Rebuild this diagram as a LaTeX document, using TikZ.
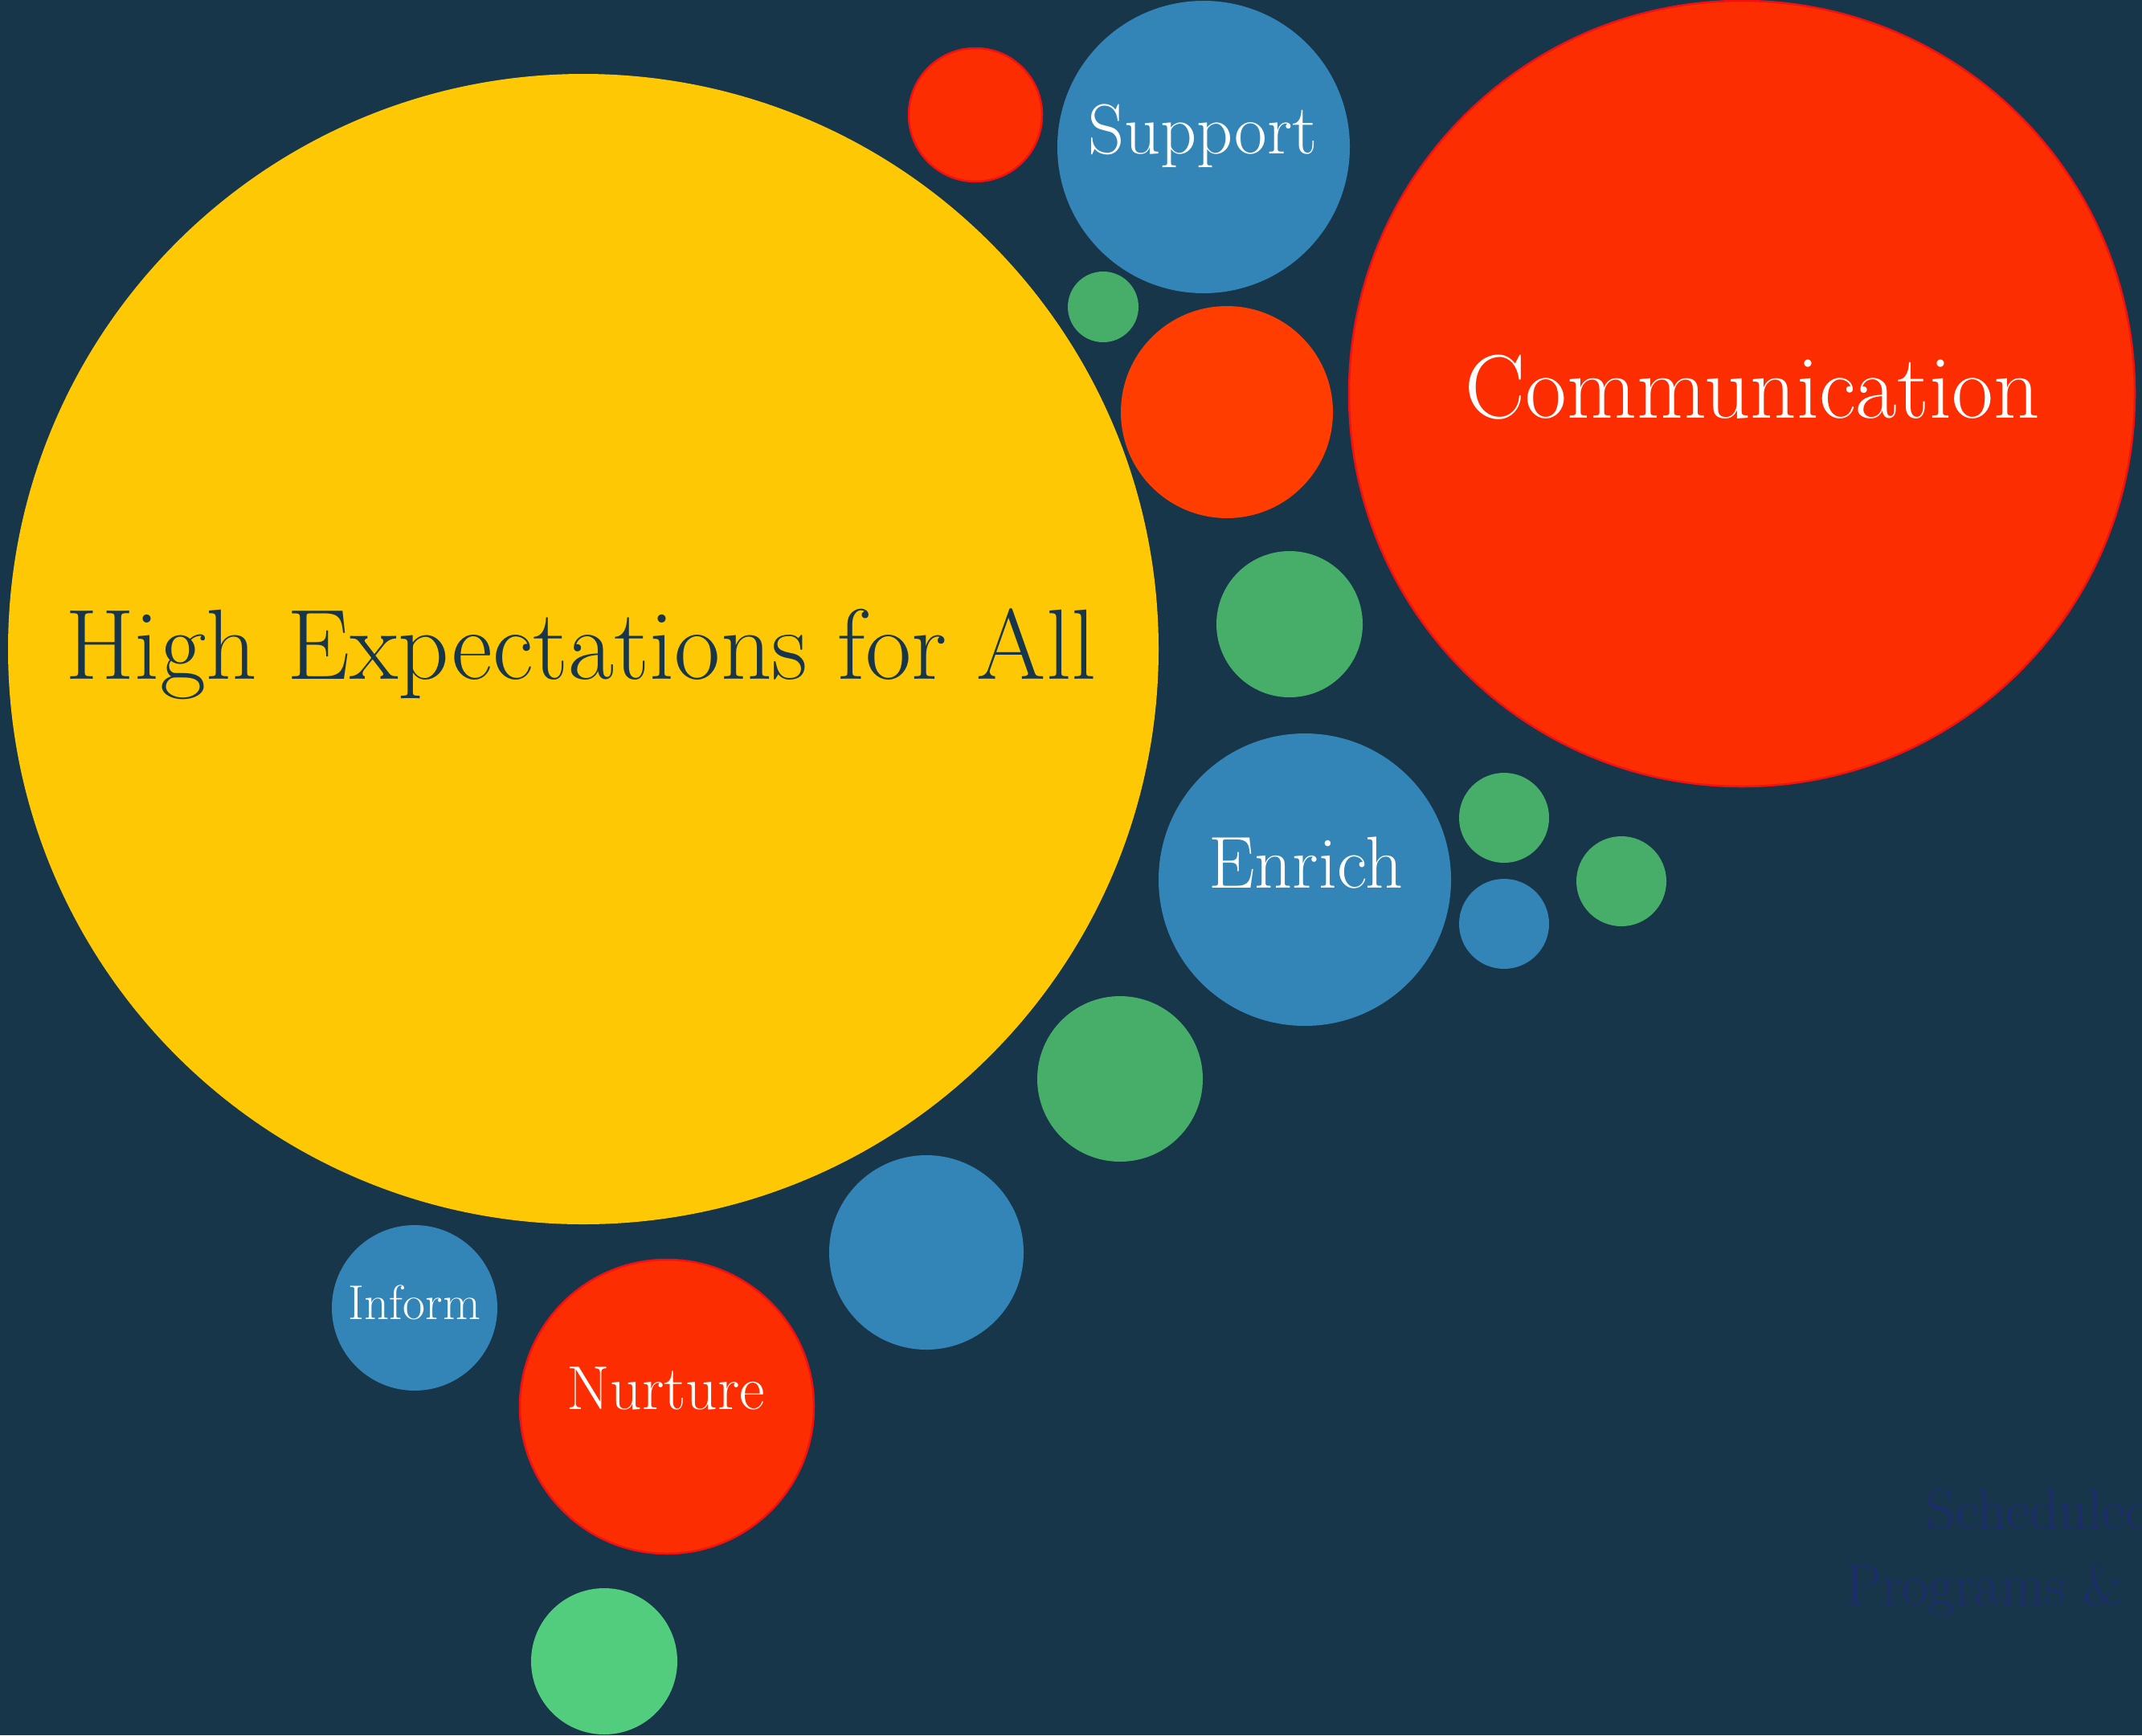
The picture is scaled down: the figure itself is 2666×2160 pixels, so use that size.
\documentclass[tikz,border=0pt]{standalone}
\usepackage{tikz}
\definecolor{bg}{HTML}{17364A}
\definecolor{cyellow}{HTML}{FFC805}
\definecolor{cred}{HTML}{FC2D00}
\definecolor{credline}{HTML}{F01212}
\definecolor{corange}{HTML}{FF3D00}
\definecolor{cblue}{HTML}{3385B7}
\definecolor{cgreen}{HTML}{47AE6A}
\definecolor{clgreen}{HTML}{52CD7D}
\definecolor{cnavy}{HTML}{1C2C6C}
\begin{document}
\begin{tikzpicture}[x=0.1mm,y=-0.1mm,
  bubble/.style={circle, inner sep=0pt, outer sep=0pt, minimum size=#1},
  yb/.style={bubble=#1, fill=cyellow},
  rb/.style={bubble=#1, fill=cred, draw=credline, line width=0.25mm},
  ob/.style={bubble=#1, fill=corange},
  bb/.style={bubble=#1, fill=cblue},
  gb/.style={bubble=#1, fill=cgreen},
  lgb/.style={bubble=#1, fill=clgreen},
  lbl/.style={anchor=base, text=white, inner sep=0pt},
  fs/.style={font=\fontsize{#1}{#1}\selectfont}]
\useasboundingbox (0,0) rectangle (2666,2160);
\clip (0,0) rectangle (2666,2160);
\fill[bg] (0,0) rectangle (2666,2160);

% bubbles
\node[yb=143.2mm] (high) at (726,808) {};
\node[rb=97.8mm] (comm) at (2168,490) {};
\node[bb=36.4mm] (supp) at (1498,183) {};
\node[rb=16.6mm] (r1) at (1214,143) {};
\node[gb=8.8mm] (g1) at (1373,382) {};
\node[ob=26.4mm] (o1) at (1527,513) {};
\node[gb=18.2mm] (g2) at (1605,777) {};
\node[bb=36.4mm] (enr) at (1624,1095) {};
\node[gb=11.2mm] (g3) at (1872,1018) {};
\node[bb=11.2mm] (b1) at (1872,1150) {};
\node[gb=11.2mm] (g4) at (2018,1097) {};
\node[gb=20.6mm] (g5) at (1394,1343) {};
\node[bb=24.2mm] (b2) at (1153,1559) {};
\node[bb=20.6mm] (inf) at (516,1628) {};
\node[rb=36.6mm] (nurt) at (830,1751) {};
\node[lgb=18.2mm] (lg1) at (752,2068) {};

% labels
\node[lbl, text=bg, fs=35.4] (thigh) at (723,845) {High Expectations for All};
\node[lbl, fs=32.0] (tcomm) at (2181,520) {Communication};
\node[lbl, fs=25.1] (tsupp) at (1497,191) {Support};
\node[lbl, fs=26.1] (tenr) at (1625,1105) {Enrich};
\node[lbl, fs=17.3] (tinf) at (516,1642) {Inform};
\node[lbl, fs=22.0] (tnurt) at (829,1754) {Nurture};
\node[lbl, anchor=base west, text=cnavy, fs=20.2] (tsch1) at (2397,1903) {Scheduled};
\node[lbl, anchor=base west, text=cnavy, fs=20.2] (tsch2) at (2297,1997) {Programs \& Courses};
\end{tikzpicture}
\end{document}
